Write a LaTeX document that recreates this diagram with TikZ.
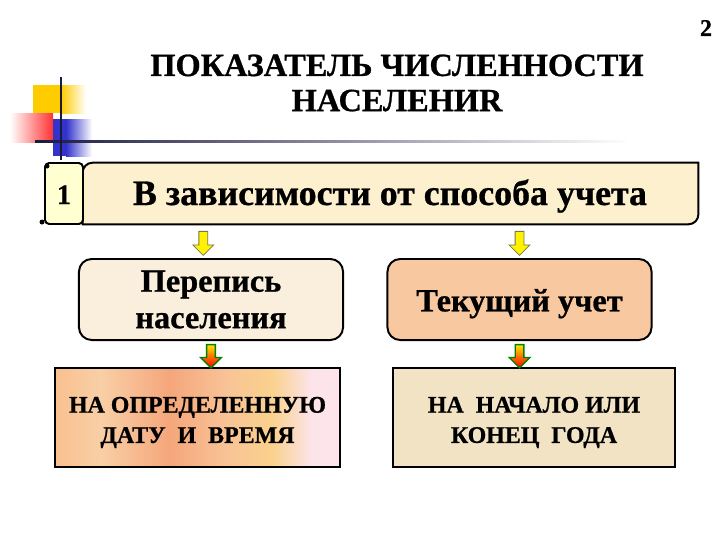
\documentclass[tikz,border=0pt]{standalone}
\usepackage{fontspec}
\setmainfont{Liberation Serif}[BoldFeatures={FakeBold=0.8}]
\usetikzlibrary{shapes.arrows, calc}

\definecolor{scrollfill}{HTML}{FDF0CF}
\definecolor{tabfill}{HTML}{FFFFD2}
\definecolor{censusfill}{HTML}{FAEEDD}
\definecolor{currentfill}{HTML}{F8C8A0}
\definecolor{parchment}{HTML}{F1E3C3}
\definecolor{dateA}{HTML}{F9C08F}
\definecolor{dateB}{HTML}{F9CFA6}
\definecolor{dateC}{HTML}{F5A67B}
\definecolor{dateD}{HTML}{F8C396}
\definecolor{dateE}{HTML}{FAD18D}
\definecolor{dateF}{HTML}{FCE4EA}
\definecolor{decoyellow}{HTML}{FFCC00}
\definecolor{decored}{HTML}{FF3333}
\definecolor{decoblue}{HTML}{3333CC}
\definecolor{decoline}{HTML}{1A1A40}

\pgfdeclarehorizontalshading{dateshade}{100bp}{color(0bp)=(dateA); color(25bp)=(dateA); color(33bp)=(dateB); color(45bp)=(dateC); color(55bp)=(dateD); color(63bp)=(dateE); color(70bp)=(dateF); color(100bp)=(dateF)}

\tikzset{
  heading/.style={font=\fontsize{23}{25}\selectfont\bfseries, align=center},
  scrolltext/.style={font=\fontsize{25.5}{28}\selectfont\bfseries},
  midbox/.style={draw, line width=1.4pt, rounded corners=9pt, minimum width=6.6cm, minimum height=2.025cm},
  midtext/.style={align=center, font=\fontsize{23}{26}\selectfont\bfseries},
  datebox/.style={draw, line width=1.4pt, minimum height=2.475cm},
  datetext/.style={align=center, font=\fontsize{17}{21.5}\selectfont\bfseries},
  yarrow/.style={single arrow, shape border rotate=270, draw=black!60!yellow, fill=yellow, line width=0.6pt, minimum height=0.6cm, minimum width=0.5cm, single arrow head extend=0.15cm, inner sep=0.1cm},
  garrow/.style={single arrow, shape border rotate=270, draw=green!50!black, top color=yellow!80!orange, bottom color=red, line width=1pt, minimum height=0.58cm, minimum width=0.5cm, single arrow head extend=0.15cm, inner sep=0.09cm}
}

\begin{document}
\begin{tikzpicture}[x=0.025cm, y=-0.025cm]
	\useasboundingbox (0,0) rectangle (720,540);
	% Corner ornament:
	\fill[decoyellow] (33,85) rectangle (61,113);
	\shade[left color=decoyellow, right color=white] (61,85) rectangle (86,113);
	\shade[left color=white, right color=decored] (10,113) rectangle (53,142);
	\fill[decoblue] (53,119) rectangle (66,156);
	\shade[left color=decoblue, right color=white] (66,119) rectangle (92,156);
	\shade[left color=decoline, middle color=black!55, right color=white] (35,140) rectangle (630,142.5);
	\draw[decoline, line width=1.5pt] (61,77) -- (61,160);

	% Title and page number:
	\node[heading](title) at (397,83){ПОКАЗАТЕЛЬ ЧИСЛЕННОСТИ\\НАСЕЛЕНИR};
	\node[font=\fontsize{17}{17}\selectfont\bfseries](page) at (706,28){2};

	% Scroll with the number tab:
	\node[minimum width=15.375cm, minimum height=1.525cm](main) at (390.5,193.5){};
	\draw[line width=1.4pt, fill=scrollfill] (main.south west) [rounded corners=7pt] -- (main.north west) [sharp corners] -- (main.north east) [rounded corners=7pt] -- (main.south east) [sharp corners] -- cycle;
	\node[scrolltext, anchor=base](maintext) at (390,205){В зависимости от способа учета};
	\node[draw, line width=1.4pt, fill=tabfill, rounded corners=3pt, minimum width=0.95cm, minimum height=1.525cm](num) at (64,193.5){};
	\node[font=\fontsize{20}{20}\selectfont\bfseries, anchor=base](numtext) at (64,204){1};
	\fill (47,166) circle (2.5);
	\fill (42,222) circle (2.5);

	% Kinds of counting:
	\node[midbox, fill=censusfill](census) at (211,299.5){};
	\node[midtext](censustext) at (census){Перепись\\населения};
	\node[midbox, fill=currentfill](current) at (519.5,299.5){};
	\node[midtext](currenttext) at ([yshift=-3pt]current.center){Текущий учет};
	\node[yarrow, xshift=-5.5pt](A1) at ($(census.north |- main.south)!0.5!(census.north)$){};
	\node[yarrow](A2) at ($(current.north |- main.south)!0.5!(current.north)$){};

	% Moments of counting:
	\node[datebox, minimum width=7.125cm, shading=dateshade](moment) at (197.5,417.5){};
	\node[datetext](momenttext) at ([yshift=-3.5pt]moment.center){НА ОПРЕДЕЛЕННУЮ\\ДАТУ~~И~~ВРЕМЯ};
	\node[datebox, minimum width=7.05cm, fill=parchment](yearend) at (534,417.5){};
	\node[datetext](yearendtext) at ([yshift=-3.5pt]yearend.center){НА~~НАЧАЛО ИЛИ\\КОНЕЦ~~ГОДА};
	\node[garrow](A3) at ($(census.south)!0.5!(census.south |- moment.north)$){};
	\node[garrow](A4) at ($(current.south)!0.5!(current.south |- yearend.north)$){};
\end{tikzpicture}
\end{document}
